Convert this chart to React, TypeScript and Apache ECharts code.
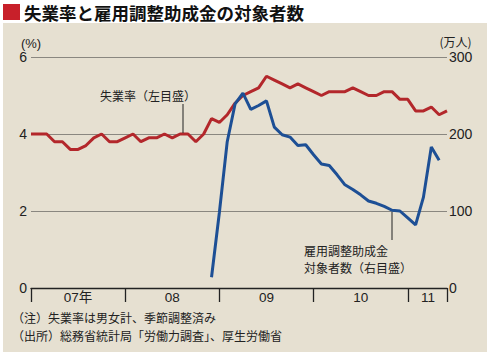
import React, { useEffect, useRef } from "react";
import * as echarts from "echarts";

// Months Jan 2007 .. Jun 2011 (54 months)
const months: string[] = [];
for (let y = 2007; y <= 2011; y++) {
  for (let m = 1; m <= 12; m++) {
    if (y === 2011 && m > 6) break;
    months.push(`${y}/${m}`);
  }
}

// Unemployment rate (%), left axis, Jan 2007 - Jun 2011
const unemployment = [
  4.0, 4.0, 4.0, 3.8, 3.8, 3.6, 3.6, 3.7, 3.9, 4.0, 3.8, 3.8,
  3.9, 4.0, 3.8, 3.9, 3.9, 4.0, 3.9, 4.0, 4.0, 3.8, 4.0, 4.4,
  4.3, 4.5, 4.8, 5.0, 5.1, 5.2, 5.5, 5.4, 5.3, 5.2, 5.3, 5.2,
  5.1, 5.0, 5.1, 5.1, 5.1, 5.2, 5.1, 5.0, 5.0, 5.1, 5.1, 4.9,
  4.9, 4.6, 4.6, 4.7, 4.5, 4.6,
];

// Employment adjustment subsidy recipients (10k persons), right axis, Dec 2008 - May 2011
const subsidyStart = 23;
const subsidy = [
  14, 98, 190, 239, 253, 232, 237, 243, 209, 199, 196, 185,
  186, 173, 161, 159, 147, 134, 128, 121, 113, 110, 106, 101,
  100, 91, 82, 118, 183, 166,
];

const xTickIdx = [0, 12, 24, 36, 48, 53];
const xLabelIdx = [6, 18, 30, 42, 50];
const xLabels = ["07年", "08", "09", "10", "11"];

const leftTicks = { min: 0, max: 6, interval: 2 };
const rightTicks = { min: 0, max: 300, interval: 100 };

const JP = "'Noto Sans CJK JP', sans-serif";
const NUM = "'Liberation Sans', 'Noto Sans CJK JP', sans-serif";

export default function App() {
  const ref = useRef<HTMLDivElement>(null);
  useEffect(() => {
    if (!ref.current) return;
    const chart = echarts.init(ref.current, undefined, { renderer: "svg" });
    const subsidySeries: (number | null)[] = months.map((_, i) => {
      const k = i - subsidyStart;
      return k >= 0 && k < subsidy.length ? subsidy[k] : null;
    });
    chart.setOption({
      animation: false,
      backgroundColor: "#ffffff",
      grid: { left: 31, right: 43, top: 57, bottom: 70, containLabel: false },
      xAxis: {
        type: "category",
        data: months,
        boundaryGap: false,
        axisLine: { show: true, lineStyle: { color: "#222", width: 1.3 } },
        axisTick: {
          show: true,
          inside: false,
          length: 14,
          interval: (i: number) => xTickIdx.includes(i),
          lineStyle: { color: "#222", width: 1.3 },
        },
        axisLabel: {
          interval: (i: number) => xLabelIdx.includes(i),
          margin: 3,
          fontSize: 13.5,
          color: "#222",
          fontFamily: NUM,
          formatter: (_v: string, i: number) => {
            const k = xLabelIdx.indexOf(i);
            if (k < 0) return "";
            return k === 4 ? `{s|${xLabels[k]}}` : xLabels[k];
          },
          rich: {
            s: { padding: [0, 0, 0, 9], fontSize: 13.5, color: "#222", fontFamily: NUM },
          },
        },
        splitLine: { show: false },
      },
      yAxis: [
        {
          type: "value",
          ...leftTicks,
          position: "left",
          name: "(%)",
          nameLocation: "end",
          nameGap: 7,
          nameTextStyle: { fontSize: 13, color: "#222", fontFamily: NUM, align: "center", verticalAlign: "bottom" },
          axisLine: { show: false },
          axisTick: { show: false },
          axisLabel: { margin: 4, fontSize: 14, color: "#222", fontFamily: NUM },
          splitLine: { show: true, lineStyle: { color: "#8a8780", width: 1 } },
        },
        {
          type: "value",
          ...rightTicks,
          position: "right",
          name: "(万人)",
          nameLocation: "end",
          nameGap: 10,
          nameTextStyle: {
            fontSize: 12,
            color: "#222",
            fontFamily: JP,
            align: "center",
            verticalAlign: "bottom",
            padding: [0, 0, 0, 17],
          },
          axisLine: { show: false },
          axisTick: { show: false },
          axisLabel: { margin: 2, fontSize: 14, color: "#222", fontFamily: NUM },
          splitLine: { show: false },
        },
      ],
      series: [
        {
          name: "失業率",
          type: "line",
          yAxisIndex: 0,
          data: unemployment,
          symbol: "none",
          lineStyle: { color: "#b3272b", width: 3 },
          z: 3,
        },
        {
          name: "雇用調整助成金対象者数",
          type: "line",
          yAxisIndex: 1,
          data: subsidySeries,
          symbol: "none",
          connectNulls: false,
          lineStyle: { color: "#1d4f95", width: 3 },
          z: 4,
        },
      ],
      graphic: [
        {
          type: "rect",
          z: -10,
          silent: true,
          shape: { x: 3, y: 23, width: 484, height: 329 },
          style: { fill: "#e6e0d1" },
        },
        {
          type: "rect",
          z: 10,
          shape: { x: 3, y: 4, width: 17, height: 16 },
          style: { fill: "#c8202a" },
        },
        {
          type: "text",
          z: 10,
          x: 24,
          y: 12,
          style: {
            text: "失業率と雇用調整助成金の対象者数",
            fontSize: 17.5,
            fontWeight: "bold",
            fontFamily: JP,
            fill: "#111",
            verticalAlign: "middle",
          },
        },
        {
          type: "text",
          z: 10,
          x: 100,
          y: 95,
          style: { text: "失業率（左目盛）", fontSize: 12, fontFamily: JP, fill: "#222", verticalAlign: "middle" },
        },
        {
          type: "line",
          z: 10,
          shape: { x1: 183, y1: 104, x2: 183, y2: 133 },
          style: { stroke: "#222", lineWidth: 1 },
        },
        {
          type: "text",
          z: 10,
          x: 304,
          y: 250,
          style: { text: "雇用調整助成金", fontSize: 12, fontFamily: JP, fill: "#222", verticalAlign: "middle" },
        },
        {
          type: "text",
          z: 10,
          x: 304,
          y: 267,
          style: { text: "対象者数（右目盛）", fontSize: 12, fontFamily: JP, fill: "#222", verticalAlign: "middle" },
        },
        {
          type: "line",
          z: 10,
          shape: { x1: 392, y1: 212, x2: 392, y2: 240 },
          style: { stroke: "#222", lineWidth: 1 },
        },
        {
          type: "text",
          z: 10,
          x: 12,
          y: 317,
          style: { text: "（注）失業率は男女計、季節調整済み", fontSize: 12, fontFamily: JP, fill: "#222", verticalAlign: "middle" },
        },
        {
          type: "text",
          z: 10,
          x: 12,
          y: 335,
          style: {
            text: "（出所）総務省統計局「労働力調査」、厚生労働省",
            fontSize: 12,
            fontFamily: JP,
            fill: "#222",
            verticalAlign: "middle",
          },
        },
      ],
    });
    return () => chart.dispose();
  }, []);
  return (
    <div
      ref={ref}
      style={{ position: "fixed", left: 0, top: 0, width: 490, height: 358 }}
    />
  );
}
